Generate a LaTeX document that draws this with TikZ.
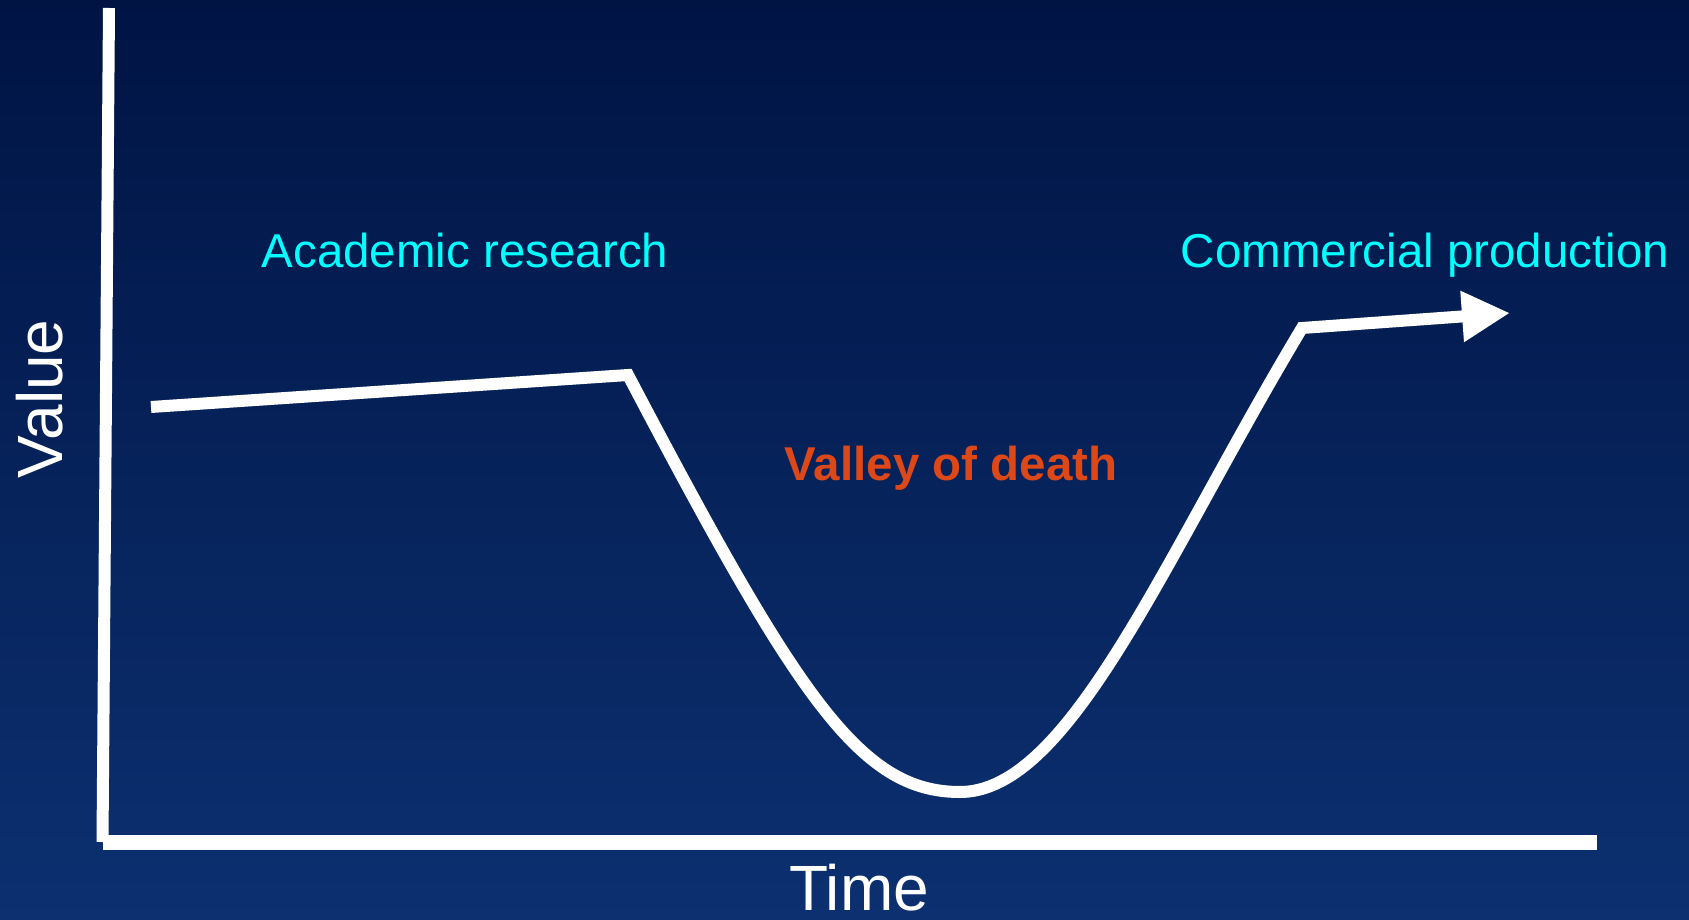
\documentclass[tikz,border=0pt]{standalone}
\usepackage{fontspec}
\setmainfont{Liberation Sans}
\usetikzlibrary{arrows.meta}
\definecolor{bgtop}{RGB}{0,20,68}
\definecolor{bgbot}{RGB}{12,48,112}
\definecolor{cyantext}{RGB}{0,255,255}
\definecolor{valley}{RGB}{221,72,24}
\begin{document}
\begin{tikzpicture}[x=1pt,y=-1pt,
  axisline/.style={white, line width=12pt},
  curveline/.style={white, line width=12pt, line join=miter},
  lbl/.style={font=\fontsize{47.5}{57}\selectfont, anchor=base, inner sep=0pt},
  biglbl/.style={white, font=\fontsize{64}{74}\selectfont, anchor=base, inner sep=0pt},
]
\shade[top color=bgtop, bottom color=bgbot] (0,0) rectangle (1689,920);
\useasboundingbox (0,0) rectangle (1689,920);
% axes
\coordinate (vtop) at (109,8);
\coordinate (vbot) at (102.5,842);
\coordinate (hleft) at (103,842);
\coordinate (hright) at (1597,842);
\draw[axisline] (vtop) -- (vbot);
\draw[axisline, line width=15pt] (hleft) -- (hright);
% curve
\coordinate (c0) at (151,407);
\coordinate (c1) at (628,375);
\coordinate (cmin) at (960,792);
\coordinate (c3) at (1302,328);
\coordinate (ctip) at (1510,313);
\draw[curveline, -{Triangle[length=48pt,width=48pt]}]
  (c0) -- (c1) .. controls (798,698) and (860,792) .. (cmin)
  .. controls (1070,792) and (1164,558) .. (c3) -- (ctip);
% labels
\node[lbl, text=cyantext] (acad) at (465,267) {Academic research};
\node[lbl, text=cyantext] (comm) at (1425,267) {Commercial production};
\node[lbl, text=valley, font=\bfseries\fontsize{47.5}{57}\selectfont] (vod) at (951,480) {Valley of death};
\node[biglbl] (time) at (859,910) {Time};
\node[biglbl, rotate=90] (value) at (62,399) {Value};
\end{tikzpicture}
\end{document}
